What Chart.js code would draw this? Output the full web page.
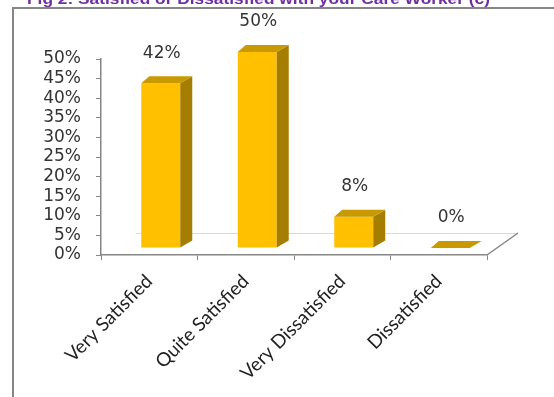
<!DOCTYPE html>
<html>
<head>
<meta charset="utf-8">
<script src="https://cdn.jsdelivr.net/npm/chart.js@4.4.1/dist/chart.umd.min.js"></script>
<style>
html,body{margin:0;padding:0;background:#fff;}
#wrap{width:554px;height:397px;position:relative;}
</style>
</head>
<body>
<div id="wrap"><canvas id="c" width="554" height="397"></canvas></div>
<script>
const titleText = 'Fig 2: Satisfied or Dissatisfied with your Care Worker (c)';
const categories = ['Very Satisfied', 'Quite Satisfied', 'Very Dissatisfied', 'Dissatisfied'];
const values = [42, 50, 8, 0];
const valueLabels = ['42%', '50%', '8%', '0%'];
const yTickMin = 0, yTickMax = 50, yTickStep = 5;

// 3D style settings
const OX = 11.5, OY = -7;      // shift of bars into the depth of the box
const DXL = 8, DXR = 12, DY = -7; // depth of each bar
const FRONT = '#FFC000', TOP = '#C99A00', SIDE = '#A57D00';
const AXIS = '#868686';

const threeD = {
  id: 'threeD',
  beforeDraw(chart) {
    const ctx = chart.ctx;
    ctx.save();
    ctx.fillStyle = '#fff';
    ctx.fillRect(0, 0, chart.width, chart.height);
    // outer frame
    ctx.strokeStyle = AXIS;
    ctx.lineWidth = 2;
    ctx.strokeRect(13, 8, 700, 600);
    // title (top clipped like the reference)
    ctx.fillStyle = '#7030A0';
    ctx.font = 'bold 15px "Liberation Sans", Arial, sans-serif';
    ctx.textAlign = 'left';
    ctx.textBaseline = 'alphabetic';
    const w = ctx.measureText(titleText).width;
    ctx.translate(27, 4);
    ctx.scale(463 / w, 1);
    ctx.fillText(titleText, 0, 0);
    ctx.restore();
  },
  beforeDatasetsDraw(chart) {
    const ctx = chart.ctx;
    const a = chart.chartArea;
    ctx.save();
    // floor back edge and right depth edge
    ctx.strokeStyle = '#D9D9D9';
    ctx.lineWidth = 1;
    ctx.beginPath();
    ctx.moveTo(a.left + 35, a.bottom - 21.5);
    ctx.lineTo(a.right + 30, a.bottom - 21.5);
    ctx.stroke();
    ctx.strokeStyle = AXIS;
    ctx.lineWidth = 1.5;
    ctx.beginPath();
    ctx.moveTo(a.right, a.bottom);
    ctx.lineTo(a.right + 31, a.bottom - 22);
    ctx.stroke();
    ctx.restore();
    ctx.save();
    ctx.translate(OX, OY);
  },
  afterDatasetsDraw(chart) {
    const ctx = chart.ctx;
    const meta = chart.getDatasetMeta(0);
    meta.data.forEach((bar, i) => {
      const p = bar.getProps(['x', 'y', 'base', 'width'], true);
      const l = p.x - p.width / 2, r = p.x + p.width / 2;
      // side face
      ctx.fillStyle = SIDE;
      ctx.beginPath();
      ctx.moveTo(r, p.y);
      ctx.lineTo(r + DXR, p.y + DY);
      ctx.lineTo(r + DXR, p.base + DY);
      ctx.lineTo(r, p.base);
      ctx.closePath();
      if (p.base - p.y > 0.5) ctx.fill();
      // top face
      ctx.fillStyle = TOP;
      ctx.beginPath();
      ctx.moveTo(l, p.y);
      ctx.lineTo(l + DXL, p.y + DY);
      ctx.lineTo(r + DXR, p.y + DY);
      ctx.lineTo(r, p.y);
      ctx.closePath();
      ctx.fill();
      // value label
      ctx.fillStyle = '#333';
      ctx.font = '17px "DejaVu Sans", Verdana, sans-serif';
      ctx.textAlign = 'center';
      ctx.textBaseline = 'middle';
      ctx.fillText(valueLabels[i], p.x + 1, p.y - 30);
    });
    ctx.restore();
  }
};

new Chart(document.getElementById('c'), {
  type: 'bar',
  data: {
    labels: categories,
    datasets: [{
      data: values,
      backgroundColor: FRONT,
      borderWidth: 0,
      barPercentage: 0.404,
      categoryPercentage: 1,
      clip: false
    }]
  },
  options: {
    responsive: false,
    animation: false,
    layout: { padding: { left: 14, top: 59, right: 67, bottom: 0 } },
    plugins: { legend: { display: false }, tooltip: { enabled: false }, title: { display: false } },
    scales: {
      x: {
        afterFit(s) { s.height = 142; },
        grid: { drawOnChartArea: false, drawTicks: true, tickLength: 5, color: AXIS, tickColor: AXIS, offset: true },
        border: { display: true, color: AXIS, width: 1.5 },
        ticks: {
          minRotation: 45, maxRotation: 45, autoSkip: false, padding: 10,
          color: '#222',
          font: { family: 'Lato, "Open Sans", sans-serif', size: 19 }
        }
      },
      y: {
        min: yTickMin, max: yTickMax,
        afterFit(s) { s.width = 87; },
        grid: { drawOnChartArea: false, drawTicks: true, tickLength: 5, color: AXIS, tickColor: AXIS },
        border: { display: true, color: AXIS, width: 1.5 },
        ticks: {
          stepSize: yTickStep, padding: 15, autoSkip: false,
          color: '#333',
          font: { family: '"DejaVu Sans", Verdana, sans-serif', size: 17 },
          callback: v => v + '%'
        }
      }
    }
  },
  plugins: [threeD]
});
</script>
</body>
</html>
